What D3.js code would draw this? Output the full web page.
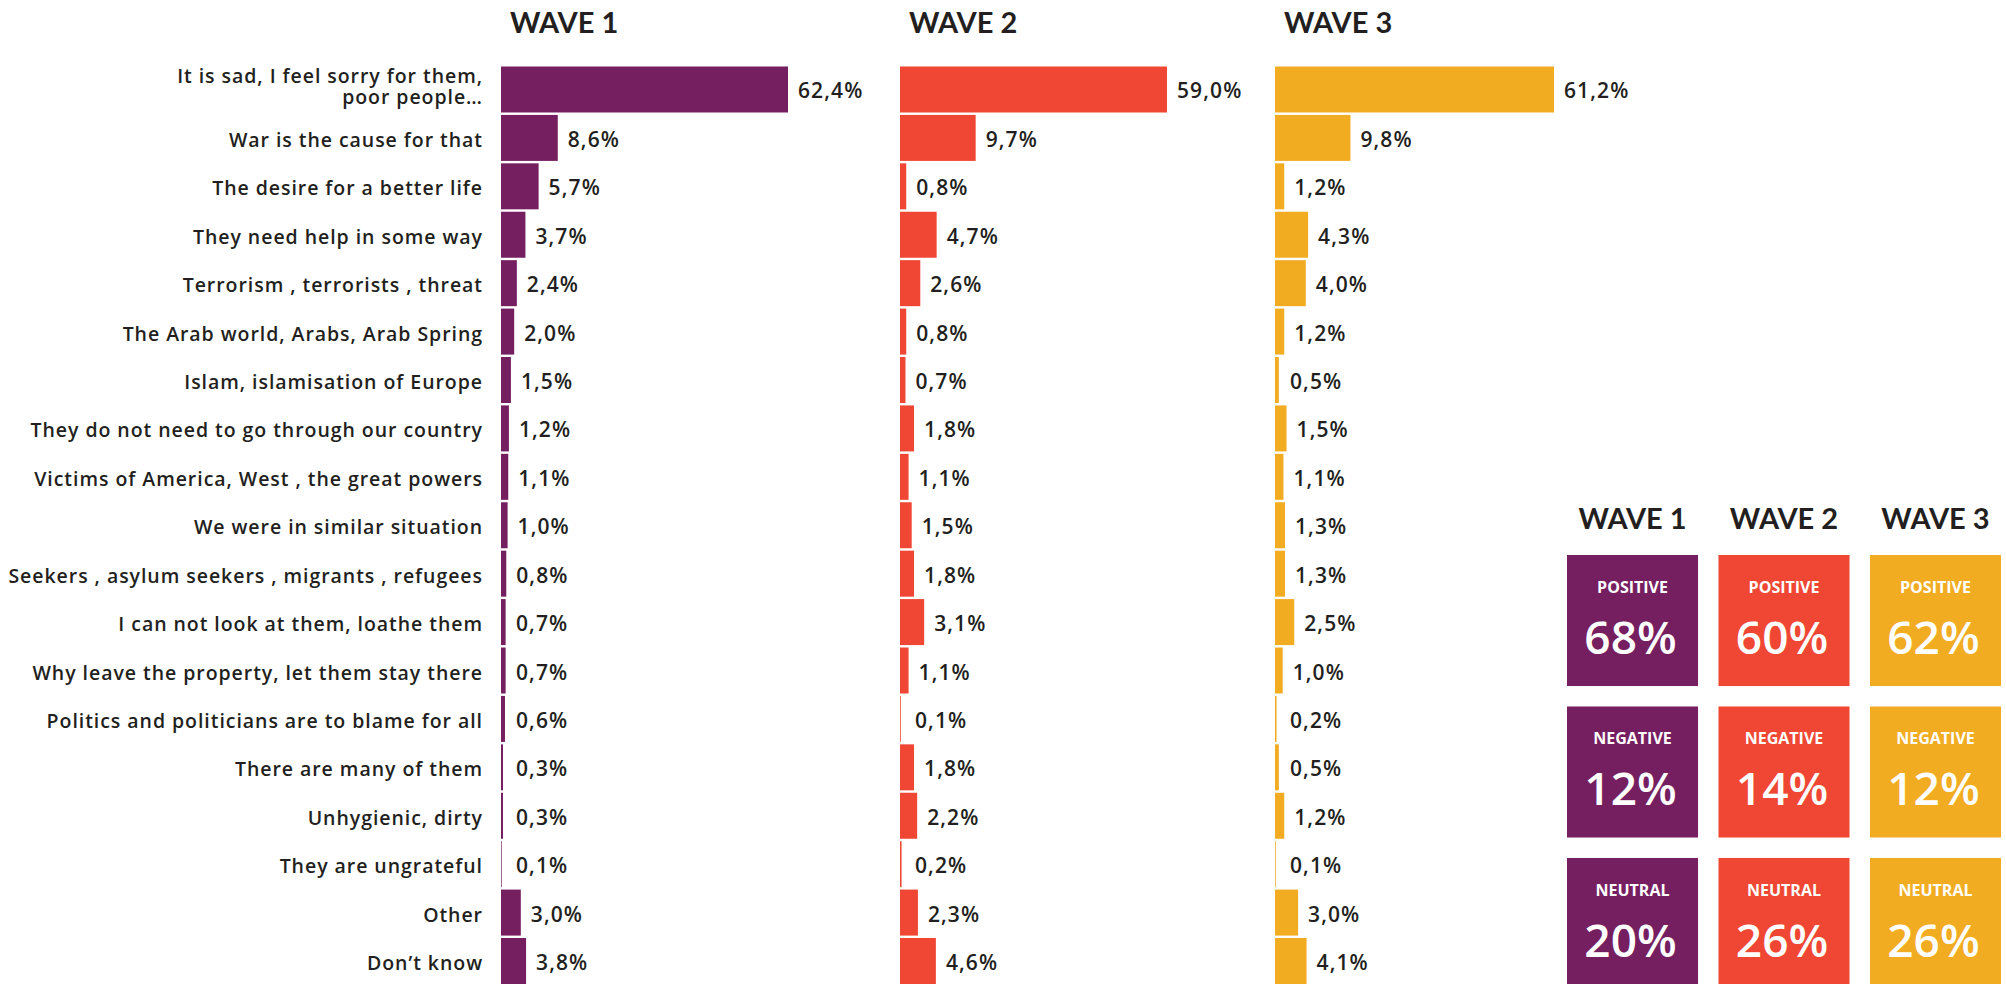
<!DOCTYPE html>
<html>
<head>
<meta charset="utf-8">
<script src="https://cdn.jsdelivr.net/npm/d3@7"></script>
<style>
  html, body { margin: 0; padding: 0; background: #ffffff; }
  svg { display: block; }
  text { font-family: "Open Sans", Lato, "Noto Sans", sans-serif; fill: #231F20; }
  text.hdr { font-family: Lato, "Open Sans", sans-serif; }
</style>
</head>
<body>
<svg id="chart" width="2006" height="984"></svg>
<script>
// ---------- DATA ----------
const categories = [
  "It is sad, I feel sorry for them,\npoor people…",
  "War is the cause for that",
  "The desire for a better life",
  "They need help in some way",
  "Terrorism , terrorists , threat",
  "The Arab world, Arabs, Arab Spring",
  "Islam, islamisation of Europe",
  "They do not need to go through our country",
  "Victims of America, West , the great powers",
  "We were in similar situation",
  "Seekers , asylum seekers , migrants , refugees",
  "I can not look at them, loathe them",
  "Why leave the property, let them stay there",
  "Politics and politicians are to blame for all",
  "There are many of them",
  "Unhygienic, dirty",
  "They are ungrateful",
  "Other",
  "Don’t know"
];
const wave1 = [62.4, 8.6, 5.7, 3.7, 2.4, 2.0, 1.5, 1.2, 1.1, 1.0, 0.8, 0.7, 0.7, 0.6, 0.3, 0.3, 0.1, 3.0, 3.8];
const wave2 = [59.0, 9.7, 0.8, 4.7, 2.6, 0.8, 0.7, 1.8, 1.1, 1.5, 1.8, 3.1, 1.1, 0.1, 1.8, 2.2, 0.2, 2.3, 4.6];
const wave3 = [61.2, 9.8, 1.2, 4.3, 4.0, 1.2, 0.5, 1.5, 1.1, 1.3, 1.3, 2.5, 1.0, 0.2, 0.5, 1.2, 0.1, 3.0, 4.1];
const waveNames = ["WAVE 1", "WAVE 2", "WAVE 3"];
const sentiments = ["POSITIVE", "NEGATIVE", "NEUTRAL"];
const summaryWave1 = [68, 12, 20];
const summaryWave2 = [60, 14, 26];
const summaryWave3 = [62, 12, 26];

// ---------- STYLE / LAYOUT ----------
const colors = ["#751E60", "#EF4733", "#F2AC22"];
const svg = d3.select("#chart");

const locale = d3.formatLocale({decimal: ",", thousands: ".", grouping: [3], currency: ["", "€"]});
const fmt1 = locale.format(".1f");

const y = d3.scaleBand().domain(categories).range([66.5, 984]).paddingInner(0.05);

// panel layout: bar start, and piecewise scale (designer's bars are not strictly linear)
const panels = [
  {name: waveNames[0], data: wave1, x0: 501, scale: d3.scaleLinear().domain([0, 10, 62.4]).range([0, 66, 287])},
  {name: waveNames[1], data: wave2, x0: 900, scale: d3.scaleLinear().domain([0, 10, 59.0]).range([0, 78, 267])},
  {name: waveNames[2], data: wave3, x0: 1275, scale: d3.scaleLinear().domain([0, 10, 61.2]).range([0, 77, 279])}
];

// category labels
const catG = svg.append("g");
catG.selectAll("text").data(categories).join("text")
  .attr("text-anchor", "end")
  .attr("font-size", 19.5)
  .attr("font-weight", 600)
  .attr("letter-spacing", 0.95)
  .each(function(d) {
    const lines = d.split("\n");
    const t = d3.select(this);
    const cy = y(d) + y.bandwidth() / 2;
    const lh = 21.5;
    lines.forEach((ln, i) => {
      const yy = lines.length > 1 ? cy - 6.5 + i * lh : cy + 9;
      t.append("tspan").attr("x", 483).attr("y", yy).text(ln);
    });
  });

panels.forEach((p, pi) => {
  const g = svg.append("g");
  g.append("text")
    .attr("class", "hdr")
    .attr("x", p.x0 + 9).attr("y", 32.5)
    .attr("font-size", 29).attr("font-weight", 700)
    .text(p.name);
  g.selectAll("rect").data(p.data).join("rect")
    .attr("x", p.x0)
    .attr("y", (d, i) => y(categories[i]))
    .attr("height", y.bandwidth())
    .attr("width", d => p.scale(d))
    .attr("fill", colors[pi]);
  g.selectAll("text.val").data(p.data).join("text")
    .attr("class", "val")
    .attr("x", d => Math.max(p.x0 + p.scale(d) + 10, p.x0 + 15))
    .attr("y", (d, i) => y(categories[i]) + y.bandwidth() / 2 + 9)
    .attr("font-size", 21).attr("font-weight", 600)
    .attr("letter-spacing", 1.1)
    .text(d => fmt1(d) + "%");
});

// ---------- SUMMARY BOXES ----------
const summaries = [summaryWave1, summaryWave2, summaryWave3];
const bx = d3.scaleBand().domain(waveNames).range([1567, 2001]).paddingInner(0.135);
const by = d3.scaleBand().domain(sentiments).range([555, 989]).paddingInner(0.135);
const sg = svg.append("g");
sg.selectAll("text.hdr").data(waveNames).join("text")
  .attr("class", "hdr")
  .attr("x", d => bx(d) + bx.bandwidth() / 2)
  .attr("y", 529)
  .attr("text-anchor", "middle")
  .attr("font-size", 29).attr("font-weight", 700)
  .text(d => d);
waveNames.forEach((wn, wi) => {
  sentiments.forEach((s, si) => {
    const x = bx(wn), yy = by(s);
    sg.append("rect").attr("x", x).attr("y", yy)
      .attr("width", bx.bandwidth()).attr("height", by.bandwidth())
      .attr("fill", colors[wi]);
    sg.append("text").attr("x", x + bx.bandwidth() / 2).attr("y", yy + 38)
      .attr("text-anchor", "middle").attr("font-size", 16).attr("font-weight", 700)
      .style("fill", "#ffffff").text(s);
    sg.append("text").attr("x", x + bx.bandwidth() / 2 - 2).attr("y", yy + 99)
      .attr("text-anchor", "middle").attr("font-size", 46).attr("font-weight", 600)
      .style("fill", "#ffffff").text(summaries[wi][si] + "%");
  });
});
</script>
</body>
</html>
